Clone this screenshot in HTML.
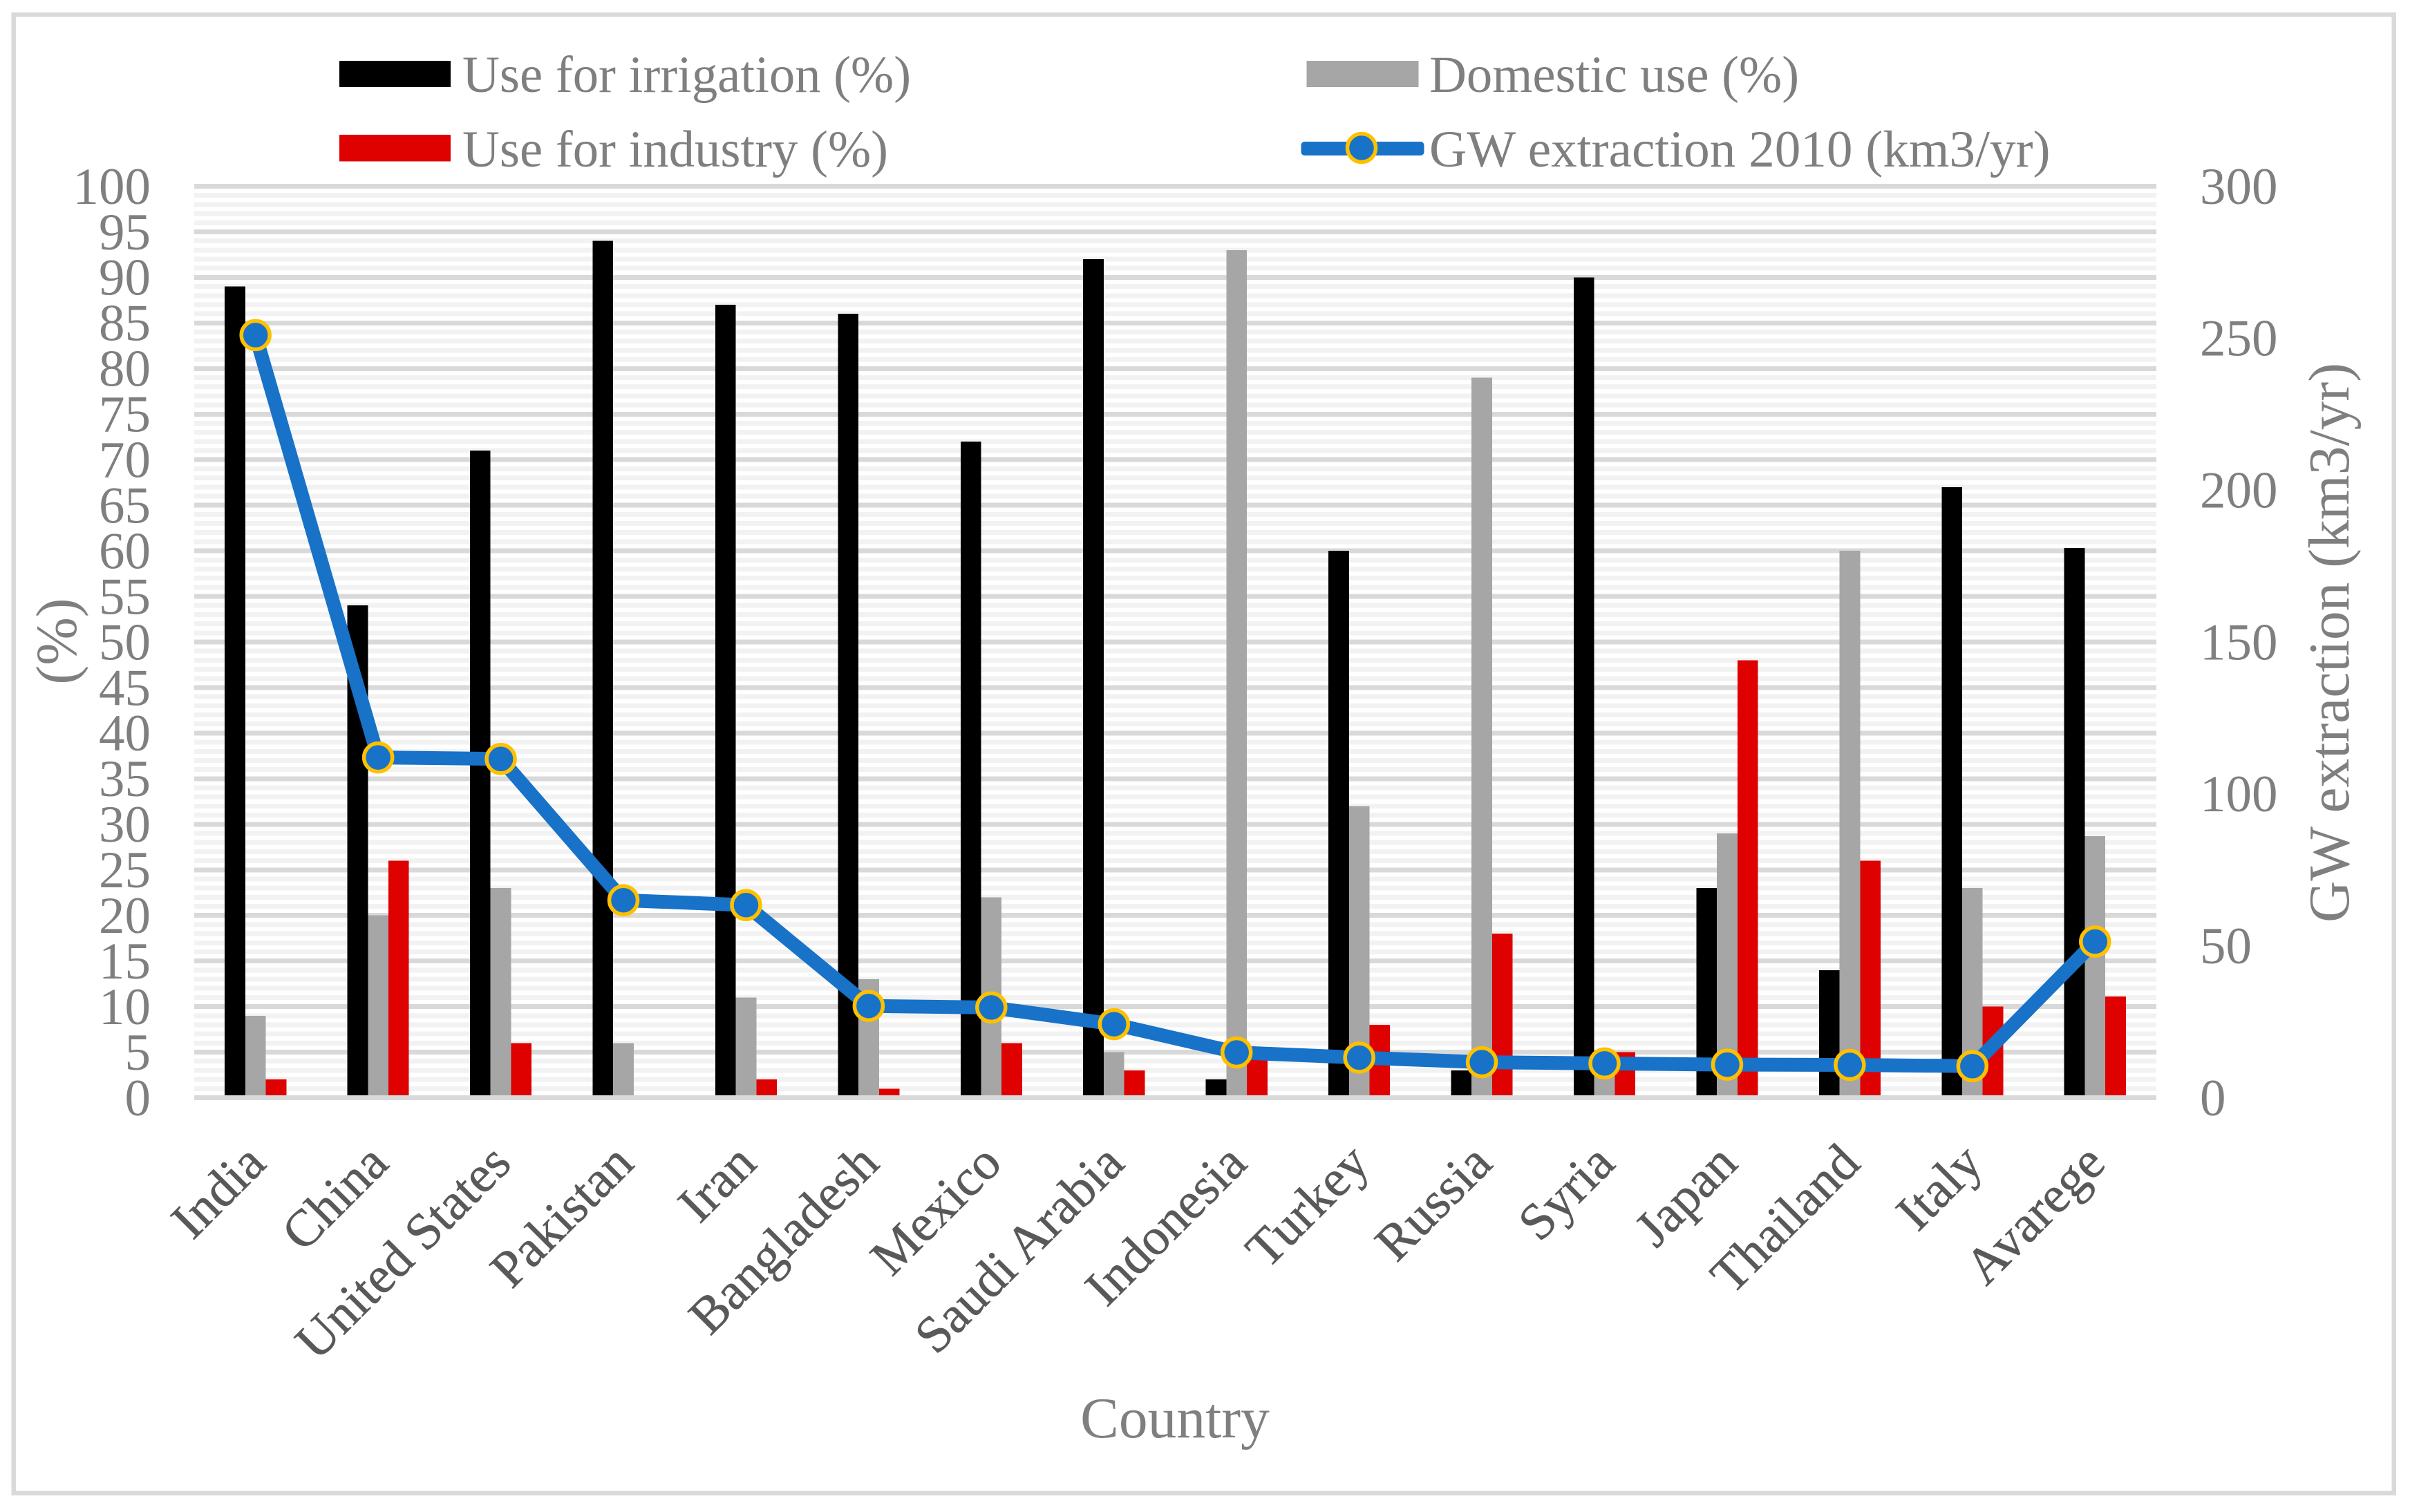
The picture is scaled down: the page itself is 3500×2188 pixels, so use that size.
<!DOCTYPE html>
<html lang="en">
<head>
<meta charset="utf-8">
<title>Groundwater use and extraction by country</title>
<style>
  html, body { margin: 0; padding: 0; background: #ffffff; }
  svg { display: block; }
  text { font-family: "Liberation Serif", "Times New Roman", serif; }
  .legend-text { font-size: 74.7px; fill: #7f7f7f; }
  .axis-title { font-size: 83.5px; fill: #7f7f7f; }
</style>
</head>
<body>
<svg id="chart" xmlns="http://www.w3.org/2000/svg" width="3500" height="2188" viewBox="0 0 3500 2188">
  <rect x="0" y="0" width="3500" height="2188" fill="#ffffff"/>
  <rect x="19.75" y="21.25" width="3444" height="2139.5" fill="#ffffff" stroke="#d9d9d9" stroke-width="6.5" shape-rendering="crispEdges"/>
  <g id="grid" shape-rendering="crispEdges"></g>
  <g id="bars" shape-rendering="crispEdges"></g>
  <g id="axis" shape-rendering="crispEdges"></g>
  <g id="series"></g>
  <g id="labels"></g>

  <g>
    <g>
      <rect x="491" y="88" width="161" height="38" fill="#000000" shape-rendering="crispEdges"/>
      <text class="legend-text" x="669" y="133">Use for irrigation (%)</text>
    </g>
    <g>
      <rect x="491" y="195" width="161" height="38.5" fill="#df0000" shape-rendering="crispEdges"/>
      <text class="legend-text" x="669" y="241">Use for industry (%)</text>
    </g>
    <g>
      <rect x="1890.5" y="88" width="162" height="38" fill="#a6a6a6" shape-rendering="crispEdges"/>
      <text class="legend-text" x="2068" y="133">Domestic use (%)</text>
    </g>
    <g>
      <rect x="1882.5" y="205" width="178" height="20" rx="5" fill="#1772c8"/>
      <circle cx="1970" cy="214" r="20.5" fill="#1772c8" stroke="#ffc000" stroke-width="5.5"/>
      <text class="legend-text" x="2068" y="241" style="font-size:75.2px">GW extraction 2010 (km3/yr)</text>
    </g>
  </g>

  <text class="axis-title" text-anchor="middle" transform="translate(110 928) rotate(-90)">(%)</text>
  <text class="axis-title" text-anchor="middle" transform="translate(3398 930) rotate(-90)">GW extraction (km3/yr)</text>
  <text class="axis-title" text-anchor="middle" x="1700" y="2080">Country</text>
</svg>

<script>
const categories = ["India", "China", "United States", "Pakistan", "Iran", "Bangladesh", "Mexico", "Saudi Arabia", "Indonesia", "Turkey", "Russia", "Syria", "Japan", "Thailand", "Italy", "Avarege"];
const irrigation = [89, 54, 71, 94, 87, 86, 72, 92, 2, 60, 3, 90, 23, 14, 67, 60.3];
const domestic = [9, 20, 23, 6, 11, 13, 22, 5, 93, 32, 79, 5, 29, 60, 23, 28.7];
const industry = [2, 26, 6, 0, 2, 1, 6, 3, 5, 8, 18, 5, 48, 26, 10, 11.1];
const extraction = [251, 112, 111.5, 65, 63.4, 30.2, 29.7, 24.2, 14.9, 13.2, 11.7, 11.3, 10.9, 10.8, 10.4, 51.4];
const leftTicks = [0, 5, 10, 15, 20, 25, 30, 35, 40, 45, 50, 55, 60, 65, 70, 75, 80, 85, 90, 95, 100];
const rightTicks = [0, 50, 100, 150, 200, 250, 300];
const minorTicks = [1, 2, 3, 4, 6, 7, 8, 9, 11, 12, 13, 14, 16, 17, 18, 19, 21, 22, 23, 24, 26, 27, 28, 29, 31, 32, 33, 34, 36, 37, 38, 39, 41, 42, 43, 44, 46, 47, 48, 49, 51, 52, 53, 54, 56, 57, 58, 59, 61, 62, 63, 64, 66, 67, 68, 69, 71, 72, 73, 74, 76, 77, 78, 79, 81, 82, 83, 84, 86, 87, 88, 89, 91, 92, 93, 94, 96, 97, 98, 99];

const NS = "http://www.w3.org/2000/svg";
const plotLeft = 281, plotRight = 3120, plotTop = 269.5, plotBottom = 1588.5;
const leftMax = 100, rightMax = 300;
const gridThickness = 7, barWidth = 29.7;

function yLeft(v) { return plotBottom - (v / leftMax) * (plotBottom - plotTop); }
function yRight(v) { return plotBottom - (v / rightMax) * (plotBottom - plotTop); }
function xCenter(i) { return plotLeft + (i + 0.5) * (plotRight - plotLeft) / categories.length; }

function make(tag, parentId) {
  const el = document.createElementNS(NS, tag);
  document.getElementById(parentId).appendChild(el);
  return el;
}
function place(el, props) {
  Object.keys(props).forEach(function (k) { el.setAttribute(k, props[k]); });
}

minorTicks.forEach(function (t) {
  const el = make("rect", "grid");
  place(el, { x: plotLeft, y: yLeft(t) - gridThickness / 2, width: plotRight - plotLeft, height: gridThickness, fill: "#f2f2f2" });
  
  
});

leftTicks.forEach(function (t) {
  if (t === 0) return;
  const el = make("rect", "grid");
  place(el, { x: plotLeft, y: yLeft(t) - gridThickness / 2, width: plotRight - plotLeft, height: gridThickness, fill: "#d9d9d9" });
  
  
});

function drawBars(values, offset, color, seriesName) {
  values.forEach(function (v, i) {
    const el = make("rect", "bars");
    const top = yLeft(v);
    place(el, { x: xCenter(i) + (offset - 1.5) * barWidth, y: top, width: barWidth, height: plotBottom - top, fill: color });
    
    
  });
}
drawBars(irrigation, 0, "#000000", "bar-irrigation");
drawBars(domestic, 1, "#a6a6a6", "bar-domestic");
drawBars(industry, 2, "#df0000", "bar-industry");

const axisLine = make("rect", "axis");
place(axisLine, { x: plotLeft, y: plotBottom - gridThickness / 2, width: plotRight - plotLeft, height: gridThickness, fill: "#d9d9d9" });



const line = make("polyline", "series");
place(line, {
  points: extraction.map(function (v, i) { return xCenter(i) + "," + yRight(v); }).join(" "),
  fill: "none", stroke: "#1772c8", "stroke-width": 20, "stroke-linejoin": "round"
});



extraction.forEach(function (v, i) {
  const el = make("circle", "series");
  place(el, { cx: xCenter(i), cy: yRight(v), r: 20.5, fill: "#1772c8", stroke: "#ffc000", "stroke-width": 5.5 });
  
  
});

leftTicks.forEach(function (t) {
  const el = make("text", "labels");
  place(el, { x: 218, y: yLeft(t) + 25.3, "text-anchor": "end", "font-size": 75, fill: "#7f7f7f" });
  el.textContent = t;
  
  
});

rightTicks.forEach(function (t) {
  const el = make("text", "labels");
  place(el, { x: 3183, y: yRight(t) + 25.3, "text-anchor": "start", "font-size": 75, fill: "#7f7f7f" });
  el.textContent = t;
  
  
});

categories.forEach(function (c, i) {
  const el = make("text", "labels");
  place(el, {
    "text-anchor": "end", "font-size": 75, fill: "#595959", stroke: "#595959", "stroke-width": 0.6,
    transform: "translate(" + (xCenter(i) + 18) + " 1687) rotate(-45)"
  });
  el.textContent = c;
  
  
});
</script>
</body>
</html>
